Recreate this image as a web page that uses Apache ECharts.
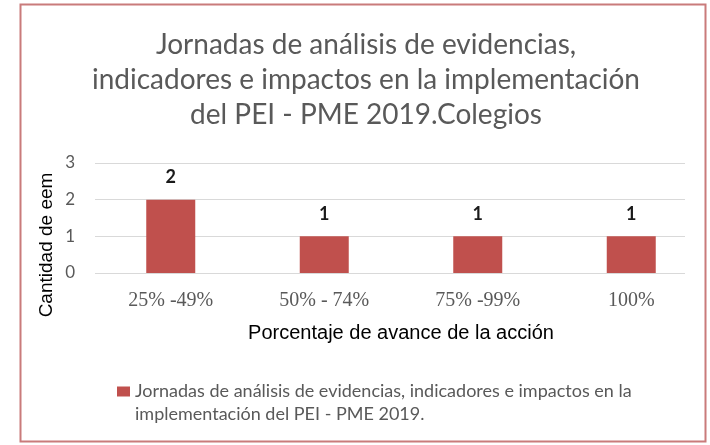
<!DOCTYPE html>
<html>
<head>
<meta charset="utf-8">
<script src="https://cdn.jsdelivr.net/npm/echarts@6/dist/echarts.min.js"></script>
<style>html,body{margin:0;padding:0;background:#fff;}#c{width:710px;height:445px;}</style>
</head>
<body>
<div id="c"></div>
<script>
const titleLines = ['Jornadas de análisis de evidencias,', 'indicadores e impactos en la implementación', 'del PEI - PME 2019.Colegios'];
const categories = ['25% -49%', '50% - 74%', '75% -99%', '100%'];
const values = [2, 1, 1, 1];
const seriesName = 'Jornadas de análisis de evidencias, indicadores e impactos en la implementación del PEI - PME 2019.';
const legendLines = ['Jornadas de análisis de evidencias, indicadores e impactos en la', 'implementación del PEI - PME 2019.'];
const yMin = 0, yMax = 3, yStep = 1;
const xName = 'Porcentaje de avance de la acción';
const yName = 'Cantidad de eem';

const chart = echarts.init(document.getElementById('c'));
const gridTop = 163, gridBottom = 445 - 273;
chart.setOption({
  animation: false,
  backgroundColor: '#fff',
  title: {
    text: titleLines.join('\n'),
    left: 366, top: 27, textAlign: 'center', padding: 0,
    textStyle: {fontFamily: 'Lato', fontSize: 28, fontWeight: 'normal', color: '#595959', lineHeight: 35}
  },
  legend: {
    left: 117, top: 357, padding: 0,
    icon: 'rect', itemWidth: 13, itemHeight: 10,
    formatter: () => ' \n' + legendLines.join('\n'),
    textStyle: {fontFamily: 'Lato', fontSize: 18, color: '#595959', lineHeight: 23}
  },
  grid: [
    {left: 95, right: 25, top: gridTop, bottom: gridBottom},
    {left: 94, right: 2, top: gridTop, bottom: gridBottom}
  ],
  xAxis: [
    {type: 'category', gridIndex: 0, data: categories, show: false},
    {type: 'category', gridIndex: 1, data: categories,
     axisLine: {show: false}, axisTick: {show: false},
     axisLabel: {fontFamily: 'Liberation Serif', fontSize: 20, color: '#595959', margin: 18},
     name: xName, nameLocation: 'middle', nameGap: 50,
     nameTextStyle: {fontFamily: 'Liberation Sans', fontSize: 20, color: '#000'}}
  ],
  yAxis: [
    {type: 'value', gridIndex: 0, min: yMin, max: yMax, interval: yStep,
     axisLine: {show: false}, axisTick: {show: false},
     axisLabel: {fontFamily: 'Lato', fontSize: 17, color: '#595959', margin: 20},
     splitLine: {lineStyle: {color: '#d9d9d9', width: 1}}},
    {type: 'value', gridIndex: 1, min: yMin, max: yMax, interval: yStep, show: false}
  ],
  series: [{
    type: 'bar', name: seriesName, xAxisIndex: 1, yAxisIndex: 1,
    data: values, barWidth: 49,
    itemStyle: {color: '#c0504d'},
    label: {show: true, position: 'top', distance: 13, fontFamily: 'Lato', fontSize: 18, fontWeight: 'bold', color: '#1a1a1a'}
  }],
  graphic: [
    {type: 'rect', shape: {x: 20.5, y: 4.5, width: 685, height: 437}, style: {fill: 'none', stroke: '#c97b7b', lineWidth: 2}, z: 100},
    {type: 'text', x: 47, y: 245, rotation: Math.PI / 2,
     style: {text: yName, font: '19px "Liberation Sans"', fill: '#000', textAlign: 'center', textVerticalAlign: 'middle'}}
  ]
});
</script>
</body>
</html>
